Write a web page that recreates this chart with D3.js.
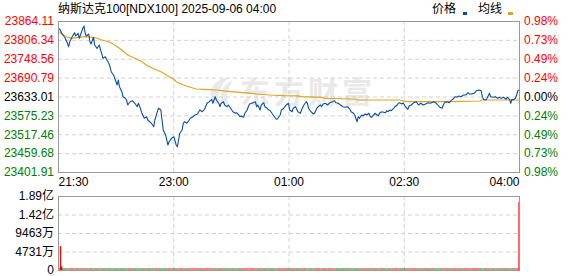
<!DOCTYPE html>
<html lang="zh">
<head>
<meta charset="UTF-8">
<title>纳斯达克100 分时</title>
<script src="https://cdn.jsdelivr.net/npm/d3@7.8.5/dist/d3.min.js"></script>
<style>
  body { margin: 0; background: #fff; }
  svg { display: block; font-family: "Liberation Sans", "Noto Sans CJK SC", sans-serif; font-size: 12px; }
</style>
</head>
<body>
<svg id="chart" width="578" height="276"></svg>
<script>
// values
const prevClose = 23633.01;
const priceTicks = [23864.11, 23806.34, 23748.56, 23690.79, 23633.01, 23575.23, 23517.46, 23459.68, 23401.91];
const pctTicks = ["0.98%", "0.73%", "0.49%", "0.24%", "0.00%", "0.24%", "0.49%", "0.73%", "0.98%"];
const timeLabels = ["21:30", "23:00", "01:00", "02:30", "04:00"];
const timeTickMinutes = [0, 97.5, 195, 292.5, 390];

// [minutes since open, price]
const price = [
  [0,23842.7],[2,23836.6],[3,23827.4],[6,23812.1],[8,23795.8],[9,23785.4],[10,23800.7],[12,23816.0],
  [14,23828.3],[15,23818.2],[17,23826.5],[18,23811.2],[19,23821.3],[21,23841.8],[22,23848.8],[23,23826.5],
  [24,23818.2],[26,23824.3],[27,23800.7],[28,23793.7],[30,23814.2],[31,23790.6],[33,23780.5],[35,23790.6],
  [36,23775.3],[37,23765.2],[38,23749.9],[40,23754.8],[41,23746.9],[43,23734.6],[44,23724.2],[45,23708.9],
  [47,23698.8],[48,23688.7],[50,23668.2],[51,23683.5],[52,23663.0],[54,23647.7],[55,23632.4],[57,23627.5],
  [58,23622.3],[59,23607.0],[61,23617.1],[63,23620.1],[65,23612.2],[67,23601.8],[68,23612.2],[70,23593.8],
  [71,23581.6],[73,23566.3],[75,23571.2],[76,23561.1],[79,23551.0],[81,23540.6],[82,23561.1],[84,23586.5],
  [85,23596.9],[87,23591.7],[88,23561.1],[89,23530.5],[91,23515.2],[93,23484.5],[94,23494.6],[96,23505.0],
  [98,23509.9],[100,23484.5],[101,23479.3],[102,23499.8],[103,23520.4],[105,23530.5],[106,23551.0],[107,23555.9],
  [109,23551.0],[110,23555.9],[112,23566.3],[114,23571.2],[116,23576.4],[118,23579.4],[120,23591.7],[122,23586.5],
  [124,23593.8],[126,23612.2],[128,23617.1],[130,23624.4],[131,23612.2],[133,23632.4],[134,23622.3],[136,23612.2],
  [137,23601.8],[138,23612.2],[140,23617.1],[141,23607.0],[143,23601.8],[144,23607.0],[146,23596.9],[147,23591.7],
  [148,23586.5],[150,23581.6],[151,23583.4],[153,23576.4],[154,23571.2],[155,23573.3],[157,23569.3],[158,23581.6],
  [160,23591.7],[161,23601.8],[162,23610.0],[164,23612.2],[165,23614.0],[167,23617.1],[168,23601.8],[169,23607.0],
  [171,23591.7],[172,23607.0],[174,23614.0],[175,23601.8],[177,23596.9],[178,23591.7],[179,23591.7],[181,23581.6],
  [182,23576.4],[184,23566.3],[185,23563.2],[186,23566.3],[188,23576.4],[189,23591.7],[191,23596.9],[192,23601.8],
  [193,23607.0],[195,23612.2],[196,23591.7],[198,23586.5],[199,23596.9],[201,23601.8],[203,23586.5],[205,23581.6],
  [206,23591.7],[208,23607.0],[210,23617.1],[211,23612.2],[212,23596.9],[214,23586.5],[216,23579.4],[217,23581.6],
  [219,23596.9],[220,23601.8],[222,23607.0],[223,23601.8],[224,23609.1],[226,23612.2],[228,23607.0],[230,23614.0],
  [232,23617.1],[234,23620.1],[235,23614.0],[237,23612.2],[239,23607.0],[241,23601.8],[243,23599.9],[245,23601.8],
  [247,23593.8],[248,23586.5],[250,23581.6],[251,23576.4],[253,23555.9],[254,23571.2],[255,23566.3],[257,23576.4],
  [258,23573.3],[260,23579.4],[261,23576.4],[263,23581.6],[264,23573.3],[265,23569.3],[267,23576.4],[268,23581.6],
  [270,23576.4],[271,23573.3],[272,23581.6],[274,23586.5],[277,23583.4],[278,23589.5],[279,23586.5],[281,23591.7],
  [282,23589.5],[284,23596.9],[285,23601.8],[287,23607.0],[288,23612.2],[289,23614.0],[291,23610.0],[292,23614.0],
  [294,23601.8],[296,23593.8],[297,23603.9],[299,23607.0],[301,23614.0],[303,23617.1],[305,23607.0],[307,23612.2],
  [309,23607.0],[311,23610.0],[313,23614.0],[315,23612.2],[318,23617.1],[320,23612.2],[322,23603.9],[323,23599.9],
  [325,23596.9],[326,23607.0],[327,23614.0],[329,23617.1],[331,23614.0],[333,23622.3],[334,23624.4],[336,23632.4],
  [337,23630.6],[339,23634.5],[341,23632.4],[343,23637.6],[345,23637.6],[347,23644.6],[348,23640.7],[350,23640.7],
  [352,23642.8],[354,23650.8],[356,23652.9],[358,23650.8],[359,23632.4],[360,23624.4],[362,23622.3],[363,23627.5],
  [365,23642.8],[366,23632.4],[368,23630.6],[370,23632.4],[372,23627.5],[373,23630.6],[375,23627.5],[377,23630.6],
  [379,23624.4],[380,23630.6],[382,23624.4],[383,23612.2],[384,23624.4],[385,23622.3],[387,23627.5],[388,23637.6],
  [389,23650.8],[390,23652.9]
];

// average price line, [minutes since open, price]
const avgLine = [
  [1,23831.4],[3,23824.3],[7,23816.0],[12,23811.2],[17,23814.2],[23,23816.0],[29,23814.2],[33,23811.2],
  [37,23805.9],[43,23800.7],[48,23790.6],[54,23775.3],[59,23760.0],[65,23749.9],[71,23739.5],[76,23726.4],
  [82,23716.3],[88,23707.1],[93,23695.8],[98,23685.6],[100,23678.3],[106,23668.2],[112,23661.2],[117,23656.0],
  [123,23655.0],[134,23652.9],[146,23647.7],[157,23644.6],[168,23640.7],[179,23637.6],[191,23635.5],[203,23635.0],
  [206,23632.4],[223,23630.6],[226,23627.5],[251,23625.4],[254,23622.3],[289,23622.3],[295,23617.1],[332,23617.1],
  [357,23619.2],[358,23622.3],[390,23622.3]
];

// volume in 万
const volTicks = [0, 4731, 9463, 14194, 18926];
const volTickLabels = ["0", "4731万", "9463万", "1.42亿", "1.89亿"];
const bigVolumes = [[1, 6100], [2, 950], [389, 17400]];
const minorVolume = 260; // every other minute sits at about this height

const RED = "#ff0000", GREEN = "#008000", BLUE = "#0b4fa3", GOLD = "#e2a31c";

const svg = d3.select("#chart");
const L = 58, R = 519, T = 21, B = 172, VT = 196, VB = 270;

const x = d3.scaleLinear().domain([0, 390]).range([L, R]);
const y = d3.scaleLinear().domain([priceTicks[8], priceTicks[0]]).range([B, T]);
const yv = d3.scaleLinear().domain([0, volTicks[4]]).range([VB, VT]);

const tickColor = v => v > prevClose + 0.001 ? RED : (v < prevClose - 0.001 ? GREEN : "#000");

// watermark
const wm = svg.append("g").attr("fill", "#e9e9e9");
wm.append("path").attr("d", "M214,104 C206,92 212,80 229,77 C221,84 217,94 219,104 Z");
wm.append("path").attr("d", "M222,104 C218,95 222,85 233,80 C228,88 226,96 228,104 Z");
wm.append("text")
  .attr("x", 240).attr("y", 103)
  .attr("font-size", 30).attr("font-weight", "bold")
  .attr("letter-spacing", 4)
  .attr("font-family", "Noto Sans CJK SC")
  .text("东方财富");

// grids
function grid(g, yScale, yVals, top, bottom) {
  g.append("g")
    .attr("transform", `translate(${L},0)`)
    .call(d3.axisLeft(yScale).tickValues(yVals).tickSize(-(R - L)).tickFormat(""))
    .call(s => s.select(".domain").remove())
    .selectAll("line").attr("stroke", "#d2d2d2").attr("stroke-dasharray", "4,3");
  g.append("g")
    .attr("transform", `translate(0,${bottom})`)
    .call(d3.axisBottom(x).tickValues(timeTickMinutes.slice(1, -1)).tickSize(-(bottom - top)).tickFormat(""))
    .call(s => s.select(".domain").remove())
    .selectAll("line").attr("stroke", "#d2d2d2").attr("stroke-dasharray", "4,3");
}
grid(svg.append("g"), y, priceTicks.slice(1, -1), T, B);
grid(svg.append("g"), yv, volTicks.slice(1, -1), VT, VB);

// price panel
const clip = svg.append("clipPath").attr("id", "pc");
clip.append("rect").attr("x", L).attr("y", T).attr("width", R - L + 1).attr("height", B - T);

svg.append("path")
  .datum(avgLine)
  .attr("clip-path", "url(#pc)")
  .attr("fill", "none").attr("stroke", GOLD).attr("stroke-width", 1.2)
  .attr("d", d3.line().x(d => x(d[0])).y(d => y(d[1])));

svg.append("path")
  .datum(price)
  .attr("clip-path", "url(#pc)")
  .attr("fill", "none").attr("stroke", BLUE).attr("stroke-width", 1.1)
  .attr("stroke-linejoin", "round")
  .attr("d", d3.line().x(d => x(d[0])).y(d => y(d[1])));

// volume bars
const minor = d3.pairs(price);
svg.append("g").selectAll("rect")
  .data(minor)
  .join("rect")
  .attr("x", d => x(d[0][0]))
  .attr("width", d => x(d[1][0]) - x(d[0][0]))
  .attr("y", yv(minorVolume) - 0.5)
  .attr("height", yv(0) - yv(minorVolume))
  .attr("fill", d => d[1][1] >= d[0][1] ? RED : GREEN);

svg.append("g").selectAll("rect")
  .data(bigVolumes)
  .join("rect")
  .attr("x", d => x(d[0]) + 0.6)
  .attr("width", 1.4)
  .attr("y", d => yv(d[1]))
  .attr("height", d => yv(0) - yv(d[1]))
  .attr("fill", RED);

// frames
svg.append("rect").attr("x", L + 0.5).attr("y", T + 0.5).attr("width", R - L).attr("height", B - T)
  .attr("fill", "none").attr("stroke", "#999");
svg.append("rect").attr("x", L + 0.5).attr("y", VT + 0.5).attr("width", R - L).attr("height", VB - VT)
  .attr("fill", "none").attr("stroke", "#999");

// axes labels
function plainAxis(g) {
  g.attr("font-size", 12).attr("font-family", null);
  g.select(".domain").remove();
  g.selectAll("line").remove();
}

svg.append("g")
  .attr("transform", `translate(${L},0)`)
  .call(d3.axisLeft(y).tickValues(priceTicks).tickFormat(d3.format(".2f")).tickSize(0).tickPadding(4))
  .call(plainAxis)
  .selectAll("text").attr("fill", d => tickColor(d));

svg.append("g")
  .attr("transform", `translate(${R},0)`)
  .call(d3.axisRight(y).tickValues(priceTicks).tickFormat((d, i) => pctTicks[i]).tickSize(0).tickPadding(5))
  .call(plainAxis)
  .selectAll("text").attr("fill", d => tickColor(d));

svg.append("g")
  .attr("transform", `translate(0,${B})`)
  .call(d3.axisBottom(x).tickValues(timeTickMinutes).tickFormat((d, i) => timeLabels[i]).tickSize(0).tickPadding(5))
  .call(plainAxis)
  .selectAll("text")
  .attr("fill", "#000")
  .attr("text-anchor", (d, i) => i === 0 ? "start" : (i === timeLabels.length - 1 ? "end" : "middle"));

svg.append("g")
  .attr("transform", `translate(${L},0)`)
  .call(d3.axisLeft(yv).tickValues(volTicks).tickFormat((d, i) => volTickLabels[i]).tickSize(0).tickPadding(4))
  .call(plainAxis)
  .selectAll("text").attr("fill", "#000");

// title and legend
svg.append("text").attr("x", L).attr("y", 13).attr("fill", "#000")
  .text("纳斯达克100[NDX100] 2025-09-06 04:00");

svg.append("text").attr("x", 432).attr("y", 13).attr("fill", "#000").text("价格");
svg.append("rect").attr("x", 463).attr("y", 12).attr("width", 4).attr("height", 3).attr("fill", BLUE);
svg.append("text").attr("x", 478).attr("y", 13).attr("fill", "#000").text("均线");
svg.append("rect").attr("x", 508).attr("y", 12).attr("width", 5).attr("height", 3).attr("fill", GOLD);
</script>
</body>
</html>
